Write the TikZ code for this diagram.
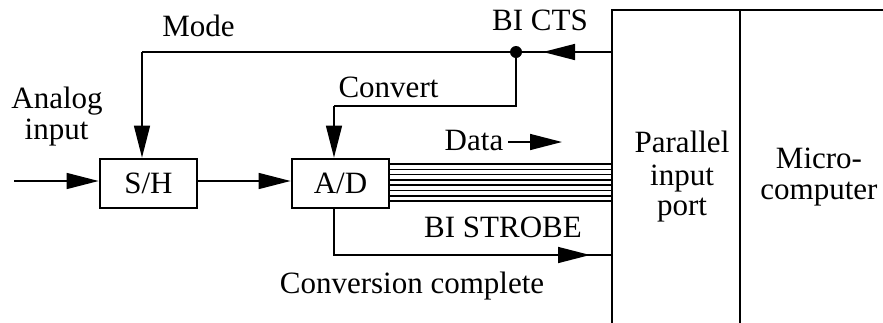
\documentclass[tikz,border=0pt]{standalone}
\usepackage{fontspec}
\setmainfont{Liberation Serif}
\usetikzlibrary{arrows.meta}
\begin{document}
\begin{tikzpicture}[x=1pt,y=-1pt,
  wire/.style={line width=1.5pt},
  box/.style={draw,line width=2.8pt,minimum width=97pt,minimum height=49pt,inner sep=0pt,font=\fontsize{31}{33}\selectfont},
  lbl/.style={anchor=base,inner sep=0pt,font=\fontsize{31}{33}\selectfont},
  tip/.style={-{Triangle[length=32pt,width=16pt]}},
  heavy/.style={line width=2.6pt}]
\useasboundingbox (0,0) rectangle (883,322);
% boxes
\node[box] (sh) at (148.5,183.5) {S/H};
\node[box] (ad) at (340.5,183.5) {A/D};
% port frame
\coordinate (pTL) at (612,10);
\coordinate (pBL) at (612,330);
\coordinate (pTR) at (890,10);
\coordinate (mT) at (740,10);
\coordinate (mB) at (740,330);
\draw[heavy] (pBL) -- (pTL) -- (pTR);
\draw[heavy] (mT) -- (mB);
% labels
\node[lbl] (mode) at (198.5,36) {Mode};
\node[lbl] (bicts) at (540,30) {BI CTS};
\node[lbl] (conv) at (388.5,97) {Convert};
\node[lbl] (analog) at (57,108) {Analog};
\node[lbl] (input) at (56.5,139) {input};
\node[lbl] (data) at (474,150) {Data};
\node[lbl] (strobe) at (503,237) {BI STROBE};
\node[lbl] (cc) at (412,293) {Conversion complete};
\node[lbl] (par1) at (682,152) {Parallel};
\node[lbl] (par2) at (682,185) {input};
\node[lbl] (par3) at (682,215) {port};
\node[lbl] (mic1) at (819,168) {Micro-};
\node[lbl] (mic2) at (819,199) {computer};
% coordinates
\coordinate (in) at (14,181);
\coordinate (dot) at (516,52);
\coordinate (ctsin) at (612,52);
\coordinate (modex) at (142,52);
\coordinate (convc) at (516,106);
\coordinate (convx) at (334,106);
\coordinate (cts1) at (543,52);
\coordinate (cts2) at (577,52);
\coordinate (sb) at (334,255);
\coordinate (sbtip) at (590,255);
\coordinate (sbend) at (612,255);
\coordinate (da1) at (508,142);
\coordinate (da2) at (562,142);
% signal wires
\draw[wire,tip] (in) -- (in -| sh.west);
\draw[wire,tip] (sh.east |- in) -- (ad.west |- in);
\draw[wire] (ctsin) -- (dot) -- (modex);
\draw[wire,tip] (modex) -- (modex |- sh.north);
\draw[wire,tip] (cts2) -- (cts1);
\fill (dot) circle (6pt);
\draw[wire] (dot) -- (convc) -- (convx);
\draw[wire,tip] (convx) -- (convx |- ad.north);
\draw[wire] (ad.south -| sb) -- (sb) -- (sbend);
\draw[wire,tip] (sb) -- (sbtip);
\draw[wire,tip] (da1) -- (da2);
% data bus
\foreach \i in {0,...,7}
  \draw[wire] (ad.east |- 0,164+5.3*\i) -- (612,164+5.3*\i);
\end{tikzpicture}
\end{document}
